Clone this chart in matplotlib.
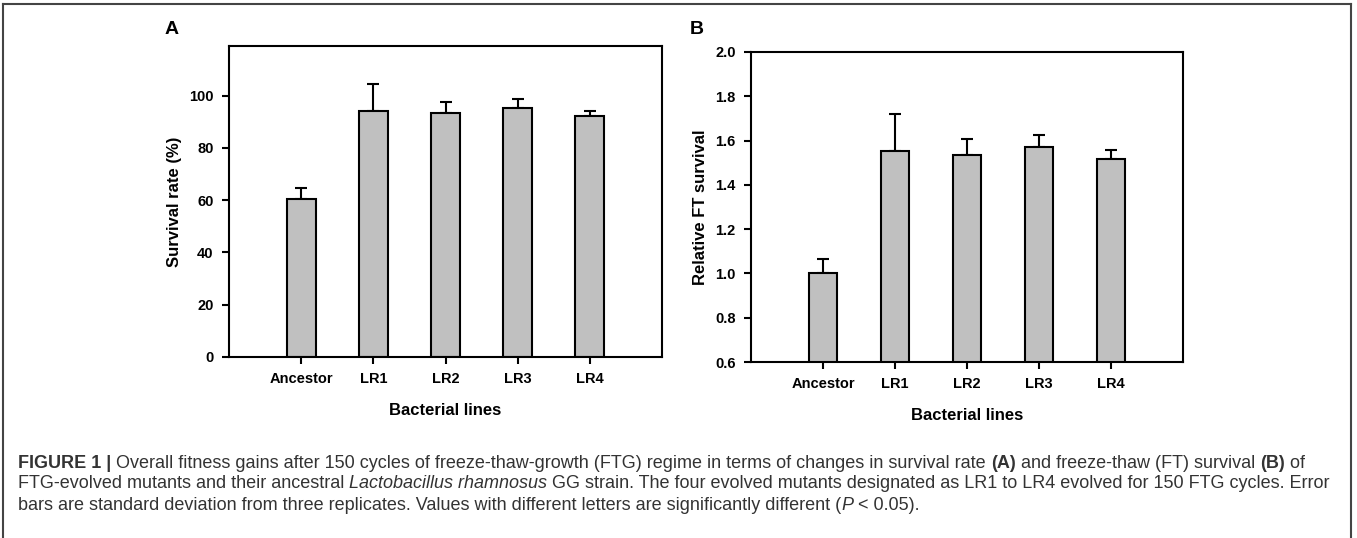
import matplotlib
matplotlib.use("Agg")
import matplotlib.pyplot as plt
from matplotlib.lines import Line2D

plt.rcParams['font.family'] = ['Liberation Sans', 'DejaVu Sans']

lines = ['Ancestor', 'LR1', 'LR2', 'LR3', 'LR4']

survival = [60.6, 94.3, 93.2, 95.1, 92.1]
survival_sd = [4.1, 10.0, 4.3, 3.6, 2.2]

ft_survival = [1.000, 1.554, 1.537, 1.569, 1.518]
ft_sd = [0.067, 0.166, 0.070, 0.058, 0.038]


def draw_panel(ax, values, errs, ylim, yticks, ylabel, fmt):
    xs = list(range(1, len(values) + 1))
    ax.bar(xs, values, width=0.4, color='#c0c0c0', edgecolor='black',
           linewidth=1.5, zorder=2)
    ax.errorbar(xs, values, yerr=[[0] * len(errs), errs], fmt='none',
                ecolor='black', elinewidth=1.5, capsize=4, capthick=1.5,
                zorder=1)
    ax.set_xlim(0, 6)
    ax.set_ylim(*ylim)
    ax.set_yticks(yticks)
    ax.set_yticklabels([fmt.format(t) for t in yticks])
    ax.set_xticks(xs)
    ax.set_xticklabels(lines)
    for s in ax.spines.values():
        s.set_linewidth(1.5)
    ax.tick_params(direction='out', length=5, width=1.5, labelsize=10.5,
                   pad=6)
    for lbl in ax.get_xticklabels() + ax.get_yticklabels():
        lbl.set_fontweight('bold')
    ax.set_xlabel('Bacterial lines', fontsize=12, fontweight='bold',
                  labelpad=12)
    ax.set_ylabel(ylabel, fontsize=12, fontweight='bold', labelpad=5)


W, H = 1357, 538
fig = plt.figure(figsize=(W / 100, H / 100), dpi=100)

axA = fig.add_axes([229 / W, 1 - 357 / H, 433 / W, 311 / H])
draw_panel(axA, survival, survival_sd, (0, 119), [0, 20, 40, 60, 80, 100],
           'Survival rate (%)', '{:.0f}')

axB = fig.add_axes([751 / W, 1 - 362 / H, 432 / W, 310 / H])
draw_panel(axB, ft_survival, ft_sd, (0.6, 2.0),
           [0.6, 0.8, 1.0, 1.2, 1.4, 1.6, 1.8, 2.0],
           'Relative FT survival', '{:.1f}')

fig.text(165 / W, 1 - 30 / H, 'A', fontsize=14, fontweight='bold', va='center')
fig.text(690 / W, 1 - 30 / H, 'B', fontsize=14, fontweight='bold', va='center')

# frame around the figure
fig.add_artist(Line2D([3 / W, 3 / W], [0, 1 - 4 / H], color='#444444', lw=1.5))
fig.add_artist(Line2D([1351 / W, 1351 / W], [0, 1 - 4 / H], color='#444444', lw=1.5))
fig.add_artist(Line2D([3 / W, 1351 / W], [1 - 4 / H, 1 - 4 / H], color='#444444', lw=1.5))

# caption, drawn piece by piece so styles can mix
caption = [
    [('FIGURE 1 | ', 'bold', 'normal'),
     ('Overall fitness gains after 150 cycles of freeze-thaw-growth (FTG) regime in terms of changes in survival rate ', 'normal', 'normal'),
     ('(A)', 'bold', 'normal'),
     (' and freeze-thaw (FT) survival ', 'normal', 'normal'),
     ('(B)', 'bold', 'normal'),
     (' of', 'normal', 'normal')],
    [('FTG-evolved mutants and their ancestral ', 'normal', 'normal'),
     ('Lactobacillus rhamnosus', 'normal', 'italic'),
     (' GG strain. The four evolved mutants designated as LR1 to LR4 evolved for 150 FTG cycles. Error', 'normal', 'normal')],
    [('bars are standard deviation from three replicates. Values with different letters are significantly different (', 'normal', 'normal'),
     ('P', 'normal', 'italic'),
     (' < 0.05).', 'normal', 'normal')],
]
cap_y = [463, 484, 505]
fig.canvas.draw()
renderer = fig.canvas.get_renderer()
for row, y in zip(caption, cap_y):
    x = 18
    for txt, weight, style in row:
        t = fig.text(x / W, 1 - y / H, txt, fontsize=13, fontweight=weight,
                     fontstyle=style, color='#333333', va='center')
        bb = t.get_window_extent(renderer)
        x += bb.width

fig.savefig('out.png', dpi=100)
